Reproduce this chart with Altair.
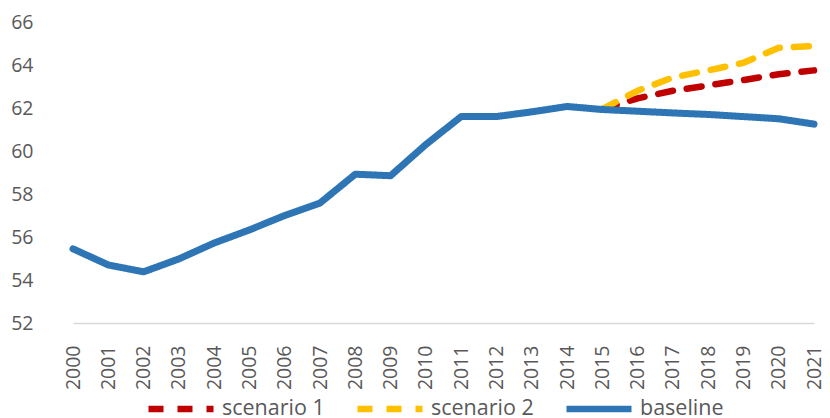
import altair as alt
import pandas as pd

years = [str(y) for y in range(2000, 2022)]
baseline = [55.45, 54.7, 54.38, 54.98, 55.72, 56.33, 57.0, 57.58, 58.92, 58.85,
            60.3, 61.6, 61.6, 61.82, 62.07, 61.93, 61.85, 61.77, 61.7, 61.6, 61.5, 61.25]
scen_years = [str(y) for y in range(2015, 2022)]
scenario1 = [61.95, 62.45, 62.8, 63.05, 63.3, 63.57, 63.75]
scenario2 = [61.95, 62.8, 63.42, 63.75, 64.1, 64.8, 64.88]

series_names = ["scenario 1", "scenario 2", "baseline"]
series_colors = ["#C00000", "#FFC000", "#2E75B6"]
series_dash = [[15, 14], [15, 14], [1, 0]]

rows = []
for y, v in zip(scen_years, scenario1):
    rows.append({"year": y, "value": v, "series": "scenario 1"})
for y, v in zip(scen_years, scenario2):
    rows.append({"year": y, "value": v, "series": "scenario 2"})
for y, v in zip(years, baseline):
    rows.append({"year": y, "value": v, "series": "baseline"})
df = pd.DataFrame(rows)

FONT = "Open Sans"
GREY = "#595959"

x_enc = alt.X("year:O", sort=years,
              scale=alt.Scale(domain=years, range=[18, 759], padding=0),
              axis=alt.Axis(title=None, labelAngle=-90, labelFontSize=19.5,
                            labelColor=GREY, labelFont=FONT, ticks=False,
                            domainColor="#D9D9D9", domainWidth=1.5,
                            labelPadding=22, labelBaseline="middle"))
y_enc = alt.Y("value:Q",
              scale=alt.Scale(domain=[52, 66], nice=False, zero=False),
              axis=alt.Axis(title=None, values=[52, 54, 56, 58, 60, 62, 64, 66],
                            grid=False, domain=False, ticks=False,
                            labelFontSize=19.5, labelColor=GREY, labelFont=FONT,
                            labelPadding=22))
color_enc = alt.Color("series:N",
                      scale=alt.Scale(domain=series_names, range=series_colors),
                      legend=alt.Legend(title=None, orient="none", legendX=90, legendY=351,
                                        direction="horizontal", symbolType="stroke",
                                        symbolSize=4225, symbolStrokeWidth=6.5,
                                        labelFontSize=21.5, labelColor=GREY, labelFont=FONT,
                                        labelOffset=5, columnPadding=19))
dash_enc = alt.StrokeDash("series:N",
                          scale=alt.Scale(domain=series_names, range=series_dash),
                          legend=None)

scen = alt.Chart(df).transform_filter(alt.datum.series != "baseline").mark_line(
    strokeWidth=6.5, strokeCap="round", strokeJoin="round"
).encode(x=x_enc, y=y_enc, color=color_enc, strokeDash=dash_enc, detail="series:N")

base = alt.Chart(df).transform_filter(alt.datum.series == "baseline").mark_line(
    strokeWidth=7, strokeCap="round", strokeJoin="round"
).encode(x=x_enc, y=y_enc, color=color_enc, strokeDash=dash_enc)

chart = alt.layer(scen, base).properties(
    width=765, height=301,
    padding={"left": 47, "top": 14, "right": 2, "bottom": 95},
    autosize=alt.AutoSizeParams(type="none"),
    background="white",
).configure_view(stroke="transparent", strokeWidth=0)

chart.save("out.html", embed_options={"renderer": "svg", "actions": False})
